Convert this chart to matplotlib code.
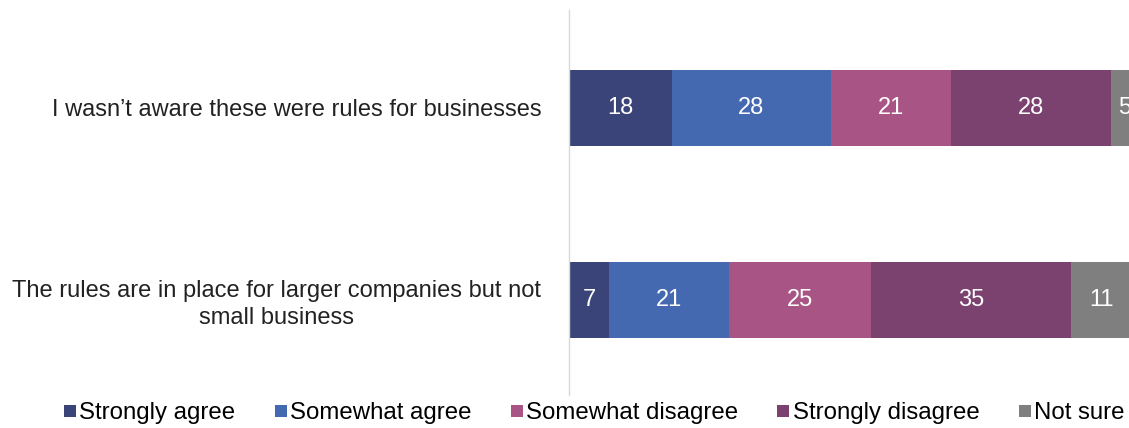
import matplotlib.pyplot as plt
from matplotlib.lines import Line2D

plt.rcParams['font.family'] = ['Liberation Sans', 'DejaVu Sans']

statements = ['I wasn\u2019t aware these were rules for businesses',
              'The rules are in place for larger companies but not\nsmall business']
responses = ['Strongly agree', 'Somewhat agree', 'Somewhat disagree',
             'Strongly disagree', 'Not sure']
strongly_agree = [18, 7]
somewhat_agree = [28, 21]
somewhat_disagree = [21, 25]
strongly_disagree = [28, 35]
not_sure = [5, 11]
colors = ['#3A4479', '#4569B1', '#A85586', '#7B416F', '#7F7F7F']

series = [strongly_agree, somewhat_agree, somewhat_disagree, strongly_disagree, not_sure]

fig = plt.figure(figsize=(11.29, 4.28), dpi=100)
# plot area runs past the right edge, so the last segment is cut off
ax = fig.add_axes([569 / 1129, 33 / 428, 570 / 1129, 385 / 428])

left = [0, 0]
ypos = range(len(statements))
for vals, col in zip(series, colors):
    bars = ax.barh(ypos, vals, left=left, height=0.395, color=col, linewidth=0)
    ax.bar_label(bars, labels=[str(v) for v in vals], label_type='center',
                 color='white', fontsize=17)
    left = [l + v for l, v in zip(left, vals)]

ax.set_xlim(0, 100)
ax.set_ylim(1.495, -0.51)
ax.set_yticks(list(ypos))
ax.set_yticklabels(statements, fontsize=17, multialignment='center',
                   color='#222222', linespacing=1.25)
ax.tick_params(axis='y', length=0, pad=20)
ax.set_xticks([])
for side in ['top', 'right', 'bottom']:
    ax.spines[side].set_visible(False)
ax.spines['left'].set_color('#D9D9D9')
ax.spines['left'].set_linewidth(1)

handles = [Line2D([], [], marker='s', linestyle='none', markersize=8,
                  markerfacecolor=c, markeredgewidth=0) for c in colors]
fig.legend(handles, responses, loc='center', bbox_to_anchor=(594 / 1129, 1 - 413 / 428),
           ncol=5, frameon=False, fontsize=17.3, handlelength=0.55, handletextpad=0.12,
           columnspacing=1.6)

fig.savefig('out.png', dpi=100)
